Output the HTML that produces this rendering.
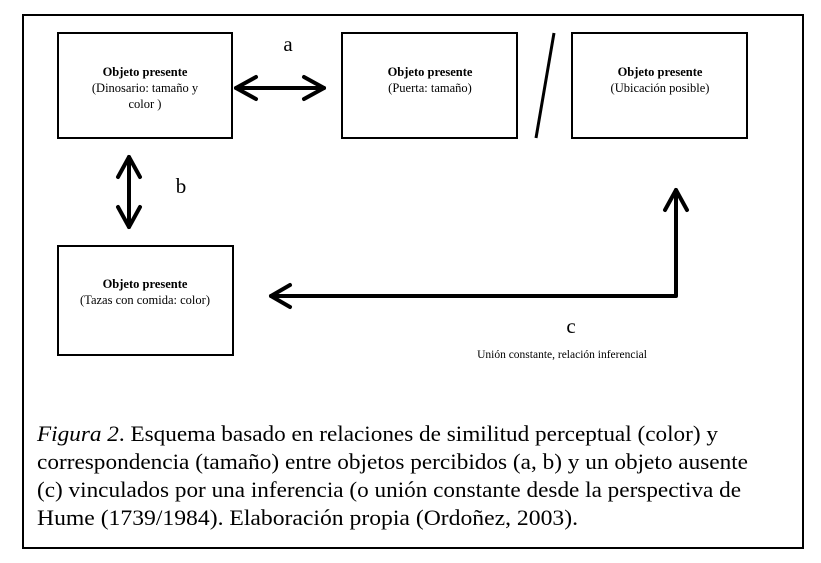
<!DOCTYPE html>
<html><head><meta charset="utf-8"><style>
body{margin:0;background:#fff;width:821px;height:558px;overflow:hidden;font-family:"Liberation Serif",serif;}
</style></head><body>
<svg width="821" height="558" xmlns="http://www.w3.org/2000/svg" font-family="Liberation Serif, serif">
<rect x="23" y="15" width="780" height="533" fill="none" stroke="#000" stroke-width="2"/>
<g fill="none" stroke="#000" stroke-width="2">
<rect x="58" y="33" width="174" height="105"/>
<rect x="342" y="33" width="175" height="105"/>
<rect x="572" y="33" width="175" height="105"/>
<rect x="58" y="246" width="175" height="109"/>
</g>
<line x1="554" y1="33" x2="536" y2="138" stroke="#000" stroke-width="3"/>
<g fill="none" stroke="#000" stroke-width="4" stroke-linecap="round" stroke-linejoin="round">
<line x1="236" y1="88" x2="324" y2="88"/>
<polyline points="256,77 236,88 256,99"/>
<polyline points="304,77 324,88 304,99"/>
<line x1="129" y1="157" x2="129" y2="227"/>
<polyline points="118,177 129,157 140,177"/>
<polyline points="118,207 129,227 140,207"/>
<polyline points="676,190 676,296 271,296"/>
<polyline points="290,285 271,296 290,307"/>
<polyline points="665,210 676,190 687,210"/>
</g>
<g font-size="12.5" text-anchor="middle">
<text x="145" y="76" font-weight="bold">Objeto presente</text>
<text x="145" y="92">(Dinosario: tamaño y</text>
<text x="145" y="108">color )</text>
<text x="430" y="76" font-weight="bold">Objeto presente</text>
<text x="430" y="92">(Puerta: tamaño)</text>
<text x="660" y="76" font-weight="bold">Objeto presente</text>
<text x="660" y="92">(Ubicación posible)</text>
<text x="145" y="288" font-weight="bold">Objeto presente</text>
<text x="145" y="304">(Tazas con comida: color)</text>
<text x="562" y="358" font-size="11.5">Unión constante, relación inferencial</text>
</g>
<g font-size="21" text-anchor="middle">
<text x="288" y="51">a</text>
<text x="181" y="193">b</text>
<text x="571" y="333">c</text>
</g>
<g font-size="22">
<text x="37" y="441" textLength="681" lengthAdjust="spacingAndGlyphs"><tspan font-style="italic">Figura 2</tspan>. Esquema basado en relaciones de similitud perceptual (color) y</text>
<text x="37" y="469" textLength="711" lengthAdjust="spacingAndGlyphs">correspondencia (tamaño) entre objetos percibidos (a, b) y un objeto ausente</text>
<text x="37" y="497" textLength="704" lengthAdjust="spacingAndGlyphs">(c) vinculados por una inferencia (o unión constante desde la perspectiva de</text>
<text x="37" y="525" textLength="541" lengthAdjust="spacingAndGlyphs">Hume (1739/1984). Elaboración propia (Ordoñez, 2003).</text>
</g>
</svg>
</body></html>
